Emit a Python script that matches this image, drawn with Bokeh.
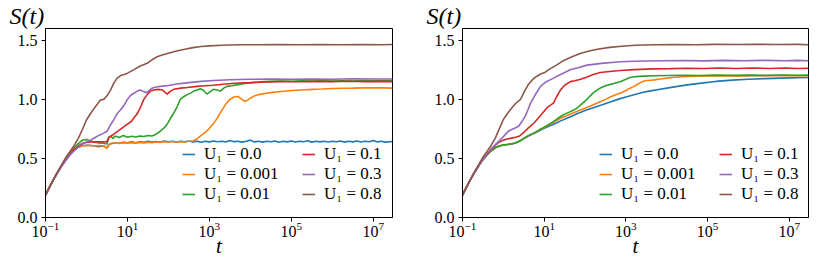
import numpy as np
from bokeh.plotting import figure
from bokeh.layouts import row
from bokeh.models import (FixedTicker, PrintfTickFormatter, LogTickFormatter,
                          Legend, LegendItem)
from bokeh.embed import file_html
from bokeh.resources import INLINE

# ---------------- data (log10 t, S) ----------------
series_labels = ["U\u2081 = 0.0", "U\u2081 = 0.001", "U\u2081 = 0.01",
                 "U\u2081 = 0.1", "U\u2081 = 0.3", "U\u2081 = 0.8"]
colors = ["#1f77b4", "#ff7f0e", "#2ca02c", "#d62728", "#9467bd", "#8c564b"]
x_ticks = [0.1, 10, 1e3, 1e5, 1e7]
y_ticks = [0.0, 0.5, 1.0, 1.5]
x_limits = (0.1, 2.95e7)
y_limits = (0.0, 1.6)
y_title = "S(t)"
x_title = "t"

# left panel
left_u0 = [(-1.0,.19),(-0.9,.26),(-0.8,.325),(-0.7,.385),(-0.6,.44),(-0.5,.49),(-0.4,.535),(-0.3,.57),(-0.2,.595),(-0.1,.608),
           (0.0,.612),(0.1,.61),(0.2,.605),(0.3,.60),(0.4,.605),(0.45,.60),(0.5,.588),(0.55,.618),(0.6,.625),(0.7,.63),
           (0.8,.628),(0.9,.636),(1.0,.632),(1.1,.64),(1.2,.633),(1.3,.641),(1.4,.636),(1.5,.645),(1.6,.638),(1.7,.644),
           (1.8,.639),(1.9,.647),(2.0,.64),(2.1,.645),(2.2,.638),(2.3,.646),(2.4,.641),(2.5,.648),(2.6,.64),(2.7,.645),
           (2.8,.637),(2.9,.646),(3.0,.64),(3.1,.648),(3.2,.641),(3.3,.645),(3.4,.639),(3.5,.652),(3.6,.642),(3.7,.646),
           (3.8,.638),(3.9,.645),(4.0,.655),(4.1,.64),(4.2,.646),(4.3,.638),(4.4,.645),(4.5,.641),(4.6,.648),(4.7,.637),
           (4.8,.646),(4.9,.64),(5.0,.647),(5.1,.639),(5.2,.645),(5.3,.641),(5.4,.649),(5.5,.638),(5.6,.645),(5.7,.64),
           (5.8,.646),(5.9,.639),(6.0,.645),(6.1,.641),(6.2,.648),(6.3,.638),(6.4,.645),(6.5,.64),(6.6,.647),(6.7,.639),
           (6.8,.645),(6.9,.641),(7.0,.652),(7.1,.64),(7.2,.646),(7.3,.638),(7.47,.643)]
left_u0001 = [(-1.0,.19),(-0.9,.26),(-0.8,.325),(-0.7,.385),(-0.6,.44),(-0.5,.49),(-0.4,.535),(-0.3,.57),(-0.2,.595),(-0.1,.606),
              (0.0,.61),(0.1,.612),(0.2,.605),(0.3,.61),(0.4,.607),(0.45,.602),(0.5,.585),(0.55,.615),(0.6,.628),(0.7,.632),
              (0.8,.626),(0.9,.635),(1.0,.63),(1.1,.634),(1.2,.628),(1.3,.636),(1.4,.632),(1.5,.638),(1.6,.633),(1.7,.64),
              (1.8,.636),(1.9,.641),(2.0,.637),(2.1,.643),(2.2,.639),(2.3,.642),(2.4,.638),(2.5,.645),(2.6,.648),(2.7,.665),
              (2.8,.695),(2.9,.72),(3.0,.755),(3.1,.795),(3.2,.845),(3.3,.905),(3.4,.96),(3.5,1.0),(3.6,1.02),(3.7,1.025),
              (3.78,1.005),(3.85,.985),(3.92,.99),(4.0,1.01),(4.1,1.03),(4.2,1.04),(4.35,1.05),(4.5,1.057),(4.75,1.067),(5.0,1.075),
              (5.25,1.08),(5.5,1.085),(5.75,1.088),(6.0,1.092),(6.25,1.094),(6.5,1.095),(6.75,1.097),(7.0,1.098),(7.25,1.097),(7.47,1.095)]
left_u001 = [(-1.0,.19),(-0.9,.26),(-0.8,.325),(-0.7,.385),(-0.6,.445),(-0.5,.5),(-0.4,.55),(-0.3,.59),(-0.2,.625),(-0.1,.655),
             (0.0,.66),(0.1,.648),(0.2,.638),(0.3,.632),(0.4,.628),(0.5,.622),(0.55,.68),(0.6,.685),(0.65,.67),(0.7,.69),
             (0.8,.678),(0.9,.695),(1.0,.68),(1.1,.688),(1.2,.682),(1.3,.69),(1.4,.686),(1.5,.694),(1.6,.69),(1.7,.705),
             (1.8,.73),(1.9,.76),(1.97,.79),(2.05,.84),(2.13,.885),(2.21,.935),(2.29,1.0),(2.38,1.025),(2.46,1.04),(2.55,1.055),
             (2.62,1.07),(2.7,1.08),(2.78,1.09),(2.86,1.075),(2.94,1.045),(3.02,1.065),(3.1,1.085),(3.18,1.08),(3.27,1.07),(3.35,1.095),
             (3.43,1.11),(3.55,1.115),(3.7,1.125),(3.85,1.135),(4.0,1.14),(4.25,1.148),(4.5,1.152),(4.75,1.155),(5.0,1.154),(5.25,1.157),
             (5.5,1.155),(5.75,1.158),(6.0,1.156),(6.25,1.158),(6.5,1.156),(6.75,1.159),(7.0,1.157),(7.25,1.16),(7.47,1.158)]
left_u01 = [(-1.0,.19),(-0.9,.26),(-0.8,.325),(-0.7,.385),(-0.6,.44),(-0.5,.49),(-0.4,.537),(-0.3,.575),(-0.2,.605),(-0.1,.628),
            (0.0,.636),(0.1,.64),(0.2,.64),(0.3,.641),(0.4,.64),(0.5,.642),(0.55,.68),(0.6,.69),(0.7,.715),(0.8,.74),
            (0.9,.765),(1.0,.79),(1.1,.815),(1.15,.84),(1.22,.87),(1.28,.905),(1.34,.95),(1.4,1.0),(1.48,1.04),(1.56,1.07),
            (1.64,1.08),(1.75,1.085),(1.85,1.08),(1.92,1.06),(1.97,1.045),(2.05,1.07),(2.13,1.085),(2.3,1.095),(2.46,1.10),(2.7,1.11),
            (2.9,1.115),(3.1,1.12),(3.4,1.13),(3.7,1.138),(4.0,1.142),(4.4,1.148),(4.8,1.15),(5.2,1.149),(5.6,1.152),(6.0,1.15),
            (6.4,1.153),(6.8,1.15),(7.2,1.152),(7.47,1.15)]
left_u03 = [(-1.0,.19),(-0.9,.255),(-0.8,.32),(-0.7,.38),(-0.6,.435),(-0.5,.485),(-0.4,.53),(-0.3,.565),(-0.2,.595),(-0.1,.62),
            (0.0,.64),(0.1,.655),(0.2,.675),(0.3,.695),(0.4,.71),(0.5,.73),(0.58,.78),(0.67,.83),(0.75,.88),(0.83,.91),
            (0.91,.945),(1.0,1.0),(1.08,1.035),(1.15,1.05),(1.25,1.072),(1.32,1.08),(1.38,1.068),(1.44,1.058),(1.5,1.065),(1.6,1.095),
            (1.7,1.105),(1.85,1.112),(2.0,1.118),(2.2,1.13),(2.5,1.142),(2.8,1.152),(3.1,1.16),(3.5,1.166),(4.0,1.17),(4.5,1.172),
            (5.0,1.17),(5.5,1.173),(6.0,1.171),(6.5,1.174),(7.0,1.172),(7.47,1.173)]
left_u08 = [(-1.0,.19),(-0.9,.26),(-0.8,.325),(-0.7,.39),(-0.6,.45),(-0.5,.51),(-0.4,.56),(-0.3,.61),(-0.2,.67),(-0.1,.745),
            (0.0,.825),(0.1,.88),(0.2,.93),(0.3,.975),(0.34,.995),(0.42,1.0),(0.5,1.03),(0.59,1.08),(0.67,1.14),(0.75,1.18),
            (0.85,1.205),(0.92,1.21),(0.99,1.22),(1.07,1.235),(1.15,1.25),(1.3,1.28),(1.48,1.305),(1.6,1.335),(1.72,1.36),(1.85,1.375),
            (2.0,1.39),(2.2,1.41),(2.4,1.425),(2.6,1.438),(2.8,1.447),(3.0,1.453),(3.3,1.458),(3.7,1.462),(4.2,1.463),(4.7,1.465),
            (5.2,1.463),(5.7,1.465),(6.2,1.463),(6.7,1.465),(7.2,1.463),(7.47,1.465)]

# right panel
right_u0 = [(-1.0,.19),(-0.9,.26),(-0.8,.325),(-0.7,.385),(-0.6,.44),(-0.5,.49),(-0.4,.53),(-0.3,.565),(-0.2,.59),(-0.1,.605),
            (0.0,.613),(0.1,.618),(0.2,.622),(0.3,.63),(0.4,.645),(0.5,.668),(0.6,.688),(0.7,.704),(0.8,.72),(0.9,.738),
            (1.0,.755),(1.1,.77),(1.2,.785),(1.3,.8),(1.4,.818),(1.5,.832),(1.6,.847),(1.7,.862),(1.8,.878),(1.9,.892),
            (2.0,.905),(2.2,.93),(2.4,.952),(2.6,.975),(2.8,1.0),(3.0,1.02),(3.2,1.04),(3.4,1.058),(3.6,1.072),(3.8,1.084),
            (4.0,1.095),(4.3,1.112),(4.6,1.127),(4.9,1.14),(5.2,1.152),(5.6,1.163),(6.0,1.17),(6.4,1.176),(6.8,1.18),(7.2,1.184),
            (7.47,1.185)]
right_u0001 = [(-1.0,.19),(-0.9,.26),(-0.8,.325),(-0.7,.385),(-0.6,.44),(-0.5,.49),(-0.4,.53),(-0.3,.565),(-0.2,.59),(-0.1,.605),
               (0.0,.613),(0.1,.618),(0.2,.623),(0.3,.632),(0.4,.647),(0.5,.67),(0.6,.69),(0.7,.706),(0.8,.725),(0.9,.745),
               (1.0,.762),(1.1,.78),(1.2,.80),(1.3,.82),(1.4,.84),(1.5,.855),(1.6,.87),(1.7,.885),(1.8,.898),(1.9,.912),
               (2.0,.925),(2.1,.94),(2.2,.955),(2.3,.97),(2.4,.985),(2.5,1.0),(2.6,1.018),(2.7,1.032),(2.8,1.045),(2.9,1.058),
               (3.0,1.075),(3.1,1.095),(3.2,1.11),(3.3,1.13),(3.4,1.15),(3.5,1.16),(3.6,1.162),(3.7,1.165),(3.85,1.172),(4.0,1.18),
               (4.2,1.187),(4.4,1.192),(4.7,1.196),(5.0,1.198),(5.4,1.2),(5.8,1.199),(6.2,1.201),(6.6,1.2),(7.0,1.202),(7.47,1.2)]
right_u001 = [(-1.0,.19),(-0.9,.26),(-0.8,.325),(-0.7,.385),(-0.6,.44),(-0.5,.49),(-0.4,.53),(-0.3,.565),(-0.2,.59),(-0.1,.605),
              (0.0,.613),(0.1,.618),(0.2,.623),(0.3,.632),(0.4,.647),(0.5,.67),(0.6,.69),(0.7,.708),(0.8,.725),(0.9,.745),
              (1.0,.765),(1.1,.785),(1.2,.805),(1.3,.83),(1.4,.855),(1.5,.875),(1.6,.89),(1.7,.905),(1.8,.925),(1.9,.955),
              (2.0,.985),(2.1,1.02),(2.2,1.055),(2.3,1.08),(2.4,1.10),(2.5,1.115),(2.6,1.125),(2.7,1.135),(2.86,1.15),(3.0,1.17),
              (3.1,1.185),(3.25,1.193),(3.45,1.197),(3.67,1.2),(4.0,1.202),(4.4,1.204),(4.8,1.202),(5.2,1.205),(5.6,1.203),(6.0,1.205),
              (6.4,1.203),(6.8,1.206),(7.2,1.204),(7.47,1.205)]
right_u01 = [(-1.0,.19),(-0.9,.26),(-0.8,.325),(-0.7,.385),(-0.6,.44),(-0.5,.49),(-0.4,.535),(-0.3,.575),(-0.2,.61),(-0.1,.64),
             (0.0,.655),(0.1,.665),(0.2,.672),(0.3,.68),(0.4,.69),(0.5,.72),(0.6,.755),(0.75,.80),(0.9,.86),(1.07,.93),
             (1.15,.95),(1.23,.97),(1.3,1.02),(1.4,1.08),(1.5,1.12),(1.64,1.15),(1.75,1.158),(1.89,1.17),(2.05,1.19),(2.2,1.21),
             (2.37,1.227),(2.6,1.236),(2.86,1.244),(3.2,1.252),(3.67,1.258),(4.1,1.26),(4.5,1.264),(4.9,1.261),(5.3,1.265),(5.7,1.262),
             (6.1,1.265),(6.5,1.262),(6.9,1.266),(7.2,1.262),(7.47,1.264)]
right_u03 = [(-1.0,.19),(-0.9,.26),(-0.8,.325),(-0.7,.385),(-0.6,.44),(-0.5,.49),(-0.4,.54),(-0.3,.58),(-0.2,.615),(-0.1,.65),
             (0.0,.685),(0.14,.735),(0.3,.76),(0.38,.775),(0.45,.81),(0.54,.86),(0.6,.91),(0.67,.97),(0.8,1.05),(0.91,1.11),
             (1.05,1.15),(1.23,1.18),(1.4,1.21),(1.64,1.25),(1.85,1.27),(2.05,1.29),(2.4,1.305),(2.86,1.318),(3.4,1.325),(3.9,1.327),
             (4.4,1.329),(4.9,1.326),(5.4,1.33),(5.9,1.327),(6.4,1.33),(6.9,1.327),(7.2,1.33),(7.47,1.327)]
right_u08 = [(-1.0,.19),(-0.9,.26),(-0.8,.325),(-0.7,.39),(-0.6,.45),(-0.5,.51),(-0.4,.56),(-0.3,.61),(-0.2,.67),(-0.1,.75),
             (0.0,.83),(0.1,.88),(0.2,.925),(0.3,.965),(0.42,1.0),(0.52,1.07),(0.62,1.13),(0.75,1.18),(0.91,1.215),(1.0,1.225),
             (1.15,1.26),(1.3,1.29),(1.48,1.33),(1.68,1.36),(1.9,1.39),(2.1,1.41),(2.3,1.425),(2.6,1.44),(2.9,1.45),(3.23,1.458),
             (3.7,1.463),(4.2,1.465),(4.7,1.463),(5.2,1.466),(5.7,1.464),(6.2,1.466),(6.7,1.464),(7.2,1.466),(7.47,1.462)]

left_series = [left_u0, left_u0001, left_u001, left_u01, left_u03, left_u08]
right_series = [right_u0, right_u0001, right_u001, right_u01, right_u03, right_u08]

SERIF = "Liberation Serif"


def make_panel(series, width, border_left, border_right, title_offset):
    p = figure(width=width, height=268, x_axis_type="log",
               x_range=x_limits, y_range=y_limits,
               output_backend="svg", toolbar_location=None,
               min_border_left=border_left, min_border_right=border_right,
               min_border_top=27, min_border_bottom=51)
    p.background_fill_color = "white"
    p.border_fill_color = "white"
    p.outline_line_color = "black"
    p.outline_line_width = 1
    p.outline_line_alpha = 1
    p.xgrid.visible = False
    p.ygrid.visible = False

    # y-axis title written horizontally above the top-left corner
    p.title.text = y_title
    p.title.align = "left"
    p.title.offset = title_offset
    p.title.standoff = 0
    p.title.text_font = SERIF
    p.title.text_font_style = "italic"
    p.title.text_font_size = "24px"
    p.title.text_color = "black"

    renderers = []
    for data, col in zip(series, colors):
        lt = np.array([d[0] for d in data])
        s = np.array([d[1] for d in data])
        r = p.line(10 ** lt, s, line_color=col, line_width=1.6)
        renderers.append(r)

    p.xaxis.ticker = FixedTicker(ticks=x_ticks, minor_ticks=[])
    p.xaxis.formatter = LogTickFormatter()
    p.yaxis.ticker = FixedTicker(ticks=y_ticks, minor_ticks=[])
    p.yaxis.formatter = PrintfTickFormatter(format="%.1f")
    for ax in (p.xaxis[0], p.yaxis[0]):
        ax.axis_line_color = "black"
        ax.major_tick_line_color = "black"
        ax.major_tick_in = 0
        ax.major_tick_out = 4
        ax.minor_tick_in = 0
        ax.minor_tick_out = 0
        ax.major_label_text_font = SERIF
        ax.major_label_text_font_size = "16px"
        ax.major_label_text_color = "black"
    p.xaxis.major_label_standoff = 0
    p.yaxis.major_label_standoff = 4
    p.xaxis.axis_label = x_title
    p.xaxis.axis_label_text_font = SERIF
    p.xaxis.axis_label_text_font_style = "italic"
    p.xaxis.axis_label_text_font_size = "21px"
    p.xaxis.axis_label_text_color = "black"
    p.xaxis.axis_label_standoff = -6

    items = [LegendItem(label=lab, renderers=[r]) for lab, r in zip(series_labels, renderers)]
    for chunk, xloc in ((items[:3], 137), (items[3:], 257)):
        leg = Legend(items=chunk, location=(xloc, 13), orientation="vertical",
                     border_line_color=None, background_fill_alpha=0,
                     padding=0, margin=0, spacing=0,
                     glyph_width=13, glyph_height=20, label_height=20,
                     label_standoff=9, label_text_font=SERIF,
                     label_text_font_size="17px", label_text_color="black")
        p.add_layout(leg)
    return p


p1 = make_panel(left_series, 410, 45, 18, -36)
p2 = make_panel(right_series, 411, 52, 13, -36)
layout = row(p1, p2)

open("out.html", "w").write(file_html(layout, INLINE))
